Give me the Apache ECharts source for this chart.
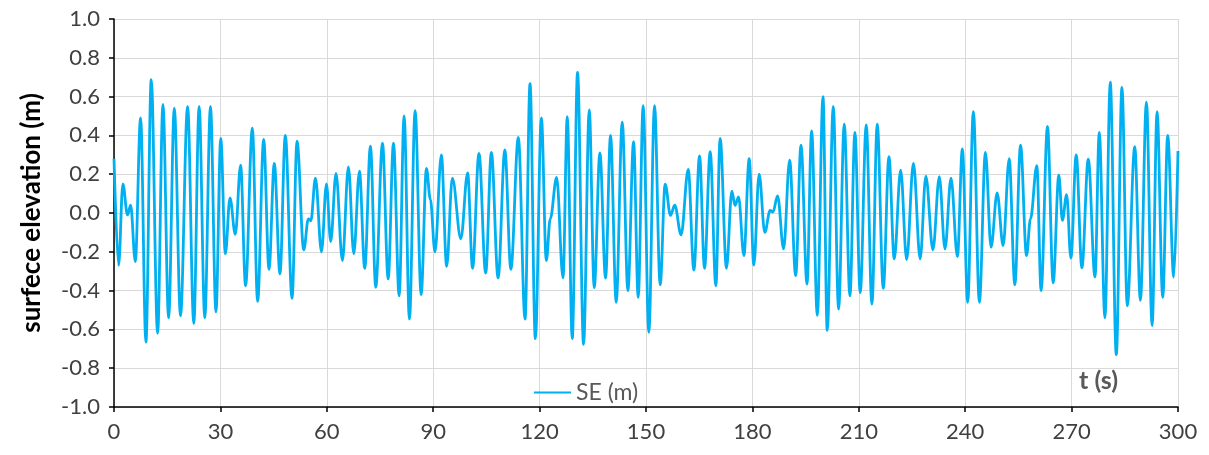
<!DOCTYPE html>
<html>
<head>
<meta charset="utf-8">
<title>surface elevation</title>
<script src="https://cdn.jsdelivr.net/npm/echarts/dist/echarts.min.js"></script>
<style>
  html, body { margin: 0; padding: 0; background: #fff; }
  #chart { width: 1209px; height: 455px; }
</style>
</head>
<body>
<div id="chart"></div>
<script>
// time (s) of each crest / trough
var tSec = [
  0, 1.3, 2.5, 3.8, 4.7, 6.0, 7.5, 9.0, 10.5, 12.3, 13.8, 15.4, 17.0, 18.75, 20.75, 22.5, 24.0, 25.6, 27.2, 28.75,
  30.1, 31.4, 32.7, 34.2, 35.7, 37.1, 39.0, 40.5, 42.2, 43.7, 45.2, 46.8, 48.3, 50.2, 51.6, 53.5, 54.8, 55.5, 56.8, 58.5,
  59.9, 61.1, 62.6, 64.4, 66.1, 67.6, 69.2, 70.7, 72.3, 73.8, 75.7, 77.3, 78.8, 80.4, 81.8, 83.3, 84.9, 86.6, 88.1, 89.2,
  90.5, 92.3, 93.8, 95.4, 97.8, 99.7, 101.1, 102.9, 104.8, 106.4, 108.3, 110.2, 111.9, 114.0, 115.9, 117.3, 118.8,
  120.5, 121.9, 123.0, 124.8, 126.6, 127.8, 129.2, 130.7, 132.4, 134.0, 135.4, 137.0, 138.6, 140.0, 141.6, 143.3, 144.9, 146.5, 147.8, 149.2,
  150.8, 152.4, 154.0, 155.4, 156.9, 158.1, 159.9, 161.9, 163.5, 165.1, 166.5, 168.1, 169.7, 170.9, 172.7, 174.2, 175.1, 176.1, 177.6, 179.1,
  180.4, 181.9, 183.5, 185.0, 185.8, 187.1, 188.8, 190.5, 192.2, 193.7, 195.4, 196.7, 198.3, 199.9, 201.1, 202.8, 204.3, 205.9, 207.5, 208.9,
  210.4, 212.1, 213.7, 215.2, 216.9, 218.5, 220.0, 221.8, 223.5, 225.4, 227.3, 228.9, 230.9, 232.7, 234.3, 236.0, 237.8, 239.2,
  240.7, 242.3, 244.0, 245.7, 247.3, 249.0, 250.7, 252.4, 254.0, 255.6, 257.3, 258.4, 260.2, 261.4, 263.2, 264.8, 266.4, 267.4, 268.6, 269.8,
  271.3, 272.9, 274.7, 276.6, 277.8, 279.4, 280.9, 282.6, 284.2, 285.7, 287.8, 289.4, 291.1, 292.7, 294.1, 295.7, 297.1, 298.8, 300.0
];

// surface elevation (m) at those times
var seM = [
  0.28, -0.27, 0.15, -0.01, 0.04, -0.25, 0.49, -0.665, 0.687, -0.62, 0.56, -0.54, 0.54, -0.53, 0.55, -0.57, 0.55, -0.54, 0.55, -0.51,
  0.385, -0.21, 0.078, -0.11, 0.247, -0.375, 0.437, -0.456, 0.38, -0.29, 0.256, -0.314, 0.40, -0.44, 0.37, -0.19, -0.03, -0.04, 0.18, -0.20,
  0.15, -0.147, 0.204, -0.245, 0.238, -0.21, 0.216, -0.285, 0.345, -0.383, 0.36, -0.34, 0.36, -0.427, 0.50, -0.547, 0.528, -0.42, 0.23, 0.07,
  -0.20, 0.30, -0.275, 0.18, -0.133, 0.207, -0.285, 0.307, -0.31, 0.313, -0.335, 0.325, -0.29, 0.39, -0.547, 0.667, -0.648,
  0.49, -0.245, -0.03, 0.183, -0.335, 0.497, -0.648, 0.725, -0.677, 0.532, -0.385, 0.31, -0.335, 0.40, -0.46, 0.468, -0.40, 0.368, -0.435, 0.553,
  -0.615, 0.553, -0.37, 0.149, -0.012, 0.04, -0.112, 0.225, -0.294, 0.294, -0.285, 0.316, -0.375, 0.385, -0.285, 0.112, 0.04, 0.083, -0.22, 0.28,
  -0.268, 0.20, -0.10, 0.014, 0.005, 0.088, -0.185, 0.273, -0.323, 0.35, -0.366, 0.423, -0.527, 0.60, -0.605, 0.55, -0.496, 0.458, -0.427, 0.416,
  -0.41, 0.454, -0.47, 0.458, -0.389, 0.29, -0.237, 0.221, -0.24, 0.256, -0.237, 0.19, -0.19, 0.187, -0.185, 0.18, -0.225, 0.33,
  -0.46, 0.523, -0.46, 0.313, -0.176, 0.104, -0.168, 0.28, -0.37, 0.35, -0.22, -0.03, 0.244, -0.40, 0.446, -0.36, 0.195, -0.038, 0.095, -0.233,
  0.30, -0.283, 0.278, -0.33, 0.416, -0.54, 0.674, -0.73, 0.648, -0.478, 0.342, -0.45, 0.572, -0.58, 0.523, -0.435, 0.40, -0.33, 0.32
];

var xTicks = { min: 0, max: 300, step: 30 };
var yTicks = { min: -1, max: 1, step: 0.2 };

var points = tSec.map(function (t, i) { return [t, seM[i]]; });

var font = "Lato, 'Open Sans', sans-serif";
var chart = echarts.init(document.getElementById("chart"));
chart.setOption({
  animation: false,
  textStyle: { fontFamily: font },
  grid: { left: 114, right: 31, top: 19, bottom: 48 },
  legend: {
    data: ["SE (m)"],
    left: 529,
    top: 376,
    icon: "rect",
    itemWidth: 37,
    itemHeight: 2,
    itemGap: 4,
    textStyle: { fontSize: 23, color: "#595959", fontFamily: font }
  },
  xAxis: {
    type: "value",
    min: xTicks.min,
    max: xTicks.max,
    interval: xTicks.step,
    axisLine: { onZero: false, lineStyle: { color: "#000", width: 1.5 } },
    axisTick: { show: true, length: 5, lineStyle: { color: "#000", width: 1.5 } },
    axisLabel: { fontSize: 22, color: "#404040", margin: 14 },
    splitLine: { show: true, lineStyle: { color: "#d9d9d9", width: 1 } }
  },
  yAxis: {
    type: "value",
    min: yTicks.min,
    max: yTicks.max,
    interval: yTicks.step,
    name: "surfece elevation (m)",
    nameLocation: "middle",
    nameGap: 69,
    nameTextStyle: { fontSize: 26, fontWeight: "bold", color: "#000", fontFamily: font },
    axisLine: { show: true, lineStyle: { color: "#000", width: 1.5 } },
    axisTick: { show: true, length: 5, lineStyle: { color: "#000", width: 1.5 } },
    axisLabel: {
      fontSize: 22,
      color: "#404040",
      margin: 14,
      formatter: function (v) { return v.toFixed(1); }
    },
    splitLine: { show: true, lineStyle: { color: "#d9d9d9", width: 1 } }
  },
  graphic: [
    {
      type: "text",
      left: 1079,
      top: 368,
      style: { text: "t (s)", font: "bold 25px " + font, fill: "#595959" }
    }
  ],
  series: [
    {
      name: "SE (m)",
      type: "line",
      data: points,
      showSymbol: false,
      smooth: 0.36,
      smoothMonotone: "x",
      lineStyle: { color: "#00b0f0", width: 2.8 },
      itemStyle: { color: "#00b0f0" }
    }
  ]
});
</script>
</body>
</html>
